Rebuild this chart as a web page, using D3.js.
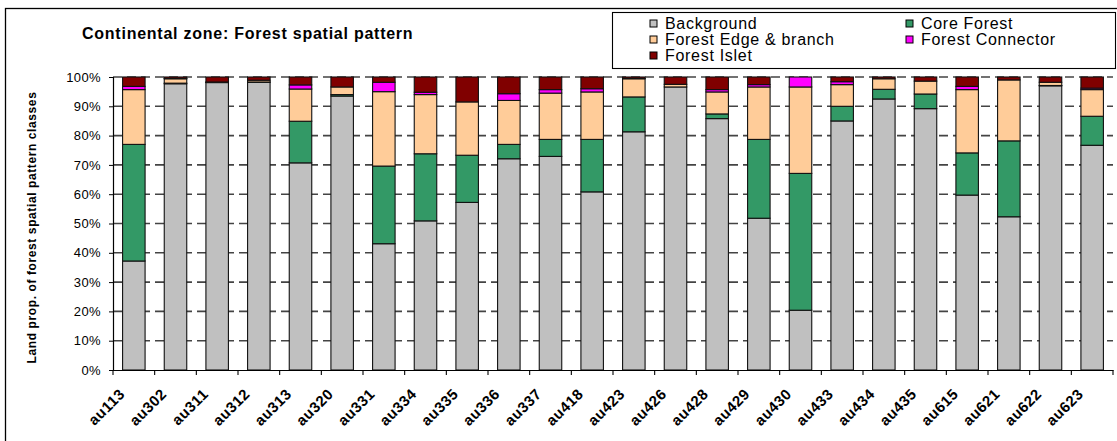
<!DOCTYPE html>
<html><head><meta charset="utf-8">
<script src="https://cdn.jsdelivr.net/npm/d3@7"></script>
<style>
body{margin:0;background:#fff;}
text{font-family:"Liberation Sans",Arial,sans-serif;}
</style></head>
<body><svg id="chart" width="1117" height="441"></svg>
<script>
const categories = ["au113","au302","au311","au312","au313","au320","au331","au334","au335","au336","au337","au418","au423","au426","au428","au429","au430","au433","au434","au435","au615","au621","au622","au623"];
const seriesNames = ["Background","Core Forest","Forest Edge & branch","Forest Connector","Forest Islet"];
const seriesColors = ["#C0C0C0","#339966","#FFCC99","#FF00FF","#800000"];
const background = [37.2,97.7,98.1,98.2,70.7,93.5,43.1,50.9,57.2,72.1,72.9,60.8,81.3,96.6,85.8,51.8,20.4,85.0,92.5,89.2,59.7,52.3,97.0,76.7];
const coreForest = [39.8,0.2,0.1,0.1,14.2,0.5,26.5,22.9,16.1,4.9,5.8,17.9,11.9,0.0,1.6,26.9,46.7,5.0,3.3,5.0,14.4,25.9,0.1,9.9];
const forestEdge = [18.7,1.5,0.1,0.6,11.0,2.6,25.4,20.2,18.2,15.0,15.8,16.2,6.2,0.9,7.5,17.9,29.5,7.4,3.6,4.4,21.6,20.8,1.1,9.1];
const connector  = [1.1,0.1,0.0,0.0,1.4,0.0,3.2,0.8,0.0,2.3,1.2,1.1,0.1,0.0,0.8,0.8,3.4,1.0,0.0,0.0,1.1,0.0,0.0,0.5];
const islet      = [3.2,0.5,1.7,1.1,2.7,3.4,1.8,5.2,8.5,5.7,4.3,4.0,0.5,2.5,4.3,2.6,0.0,1.6,0.6,1.4,3.2,1.0,1.8,3.8];
const yTicks = [0,10,20,30,40,50,60,70,80,90,100];

const svg = d3.select("#chart");
const m = {left:113, right:1113, top:77, bottom:370};

// outer frame
svg.append("rect").attr("x",5.5).attr("y",8.5).attr("width",1120).attr("height",440)
  .attr("fill","none").attr("stroke","#000").attr("stroke-width",1.3);

const x = d3.scaleBand().domain(categories).range([m.left,m.right]).paddingInner(0.46).paddingOuter(0.23);
const xb = d3.scaleBand().domain(categories).range([m.left,m.right]);
const y = d3.scaleLinear().domain([0,100]).range([m.bottom,m.top]);

// gridlines
svg.append("g").selectAll("line").data(yTicks.filter(d=>d>0)).join("line")
  .attr("x1",m.left).attr("x2",m.right).attr("y1",d=>y(d)).attr("y2",d=>y(d))
  .attr("stroke","#444").attr("stroke-width",1.6).attr("stroke-dasharray","9,5");

// stacked data
const rows = categories.map((c,i)=>({cat:c,"Background":background[i],"Core Forest":coreForest[i],"Forest Edge & branch":forestEdge[i],"Forest Connector":connector[i],"Forest Islet":islet[i]}));
const stack = d3.stack().keys(seriesNames)(rows);

svg.append("g").selectAll("g").data(stack).join("g")
  .attr("fill",(d,i)=>seriesColors[i])
  .selectAll("rect").data(d=>d.filter(p=>p[1]-p[0]>0)).join("rect")
  .attr("x",d=>x(d.data.cat)).attr("width",x.bandwidth())
  .attr("y",d=>y(d[1])).attr("height",d=>y(d[0])-y(d[1]))
  .attr("stroke","#111").attr("stroke-width",1.1);

// y axis
const ya = svg.append("g").attr("transform",`translate(${m.left},0)`)
  .call(d3.axisLeft(y).tickValues(yTicks).tickFormat(d=>d+"%").tickSize(4).tickPadding(8));
ya.select(".domain").attr("stroke","#000").attr("stroke-width",1.2);
ya.selectAll(".tick line").attr("stroke","#000");
ya.selectAll("text").attr("font-size","13px").attr("letter-spacing","0.4px").attr("fill","#000")
  .attr("font-family","Liberation Sans, Arial, sans-serif");

// x axis
const xa = svg.append("g").attr("transform",`translate(0,${m.bottom})`)
  .call(d3.axisBottom(xb).tickSize(0).tickFormat(""));
xa.select(".domain").attr("stroke","#000").attr("stroke-width",1.2);
svg.append("g").selectAll("line").data(categories.concat(["_end"])).join("line")
  .attr("x1",(d,i)=>m.left+i*xb.step()).attr("x2",(d,i)=>m.left+i*xb.step())
  .attr("y1",m.bottom).attr("y2",m.bottom+5).attr("stroke","#000").attr("stroke-width",1.1);
svg.append("g").selectAll("text").data(categories).join("text")
  .attr("transform",d=>`translate(${xb(d)+xb.bandwidth()/2-8},${m.bottom+25}) rotate(-45)`)
  .attr("text-anchor","end").attr("font-size","15px").attr("letter-spacing","0.5px")
  .attr("font-weight","bold").attr("fill","#000")
  .text(d=>d);

// y title
svg.append("text").attr("transform",`translate(35.5,${(m.top+m.bottom)/2+4}) rotate(-90)`)
  .attr("text-anchor","middle").attr("font-size","12px").attr("letter-spacing","0.6px")
  .attr("font-weight","bold").text("Land prop. of forest spatial pattern classes");

// title
svg.append("text").attr("x",82).attr("y",39).attr("font-size","16px").attr("letter-spacing","0.75px")
  .attr("font-weight","bold").text("Continental zone: Forest spatial pattern");

// legend
const lg = svg.append("g");
lg.append("rect").attr("x",612.5).attr("y",12.5).attr("width",503).attr("height",56)
  .attr("fill","#fff").attr("stroke","#000").attr("stroke-width",1.1);
const legPos = [[650,23.5],[906,23.5],[650,39.5],[906,39.5],[650,55.5]];
seriesNames.forEach((n,i)=>{
  const [lx,ly] = legPos[i];
  lg.append("rect").attr("x",lx).attr("y",ly-3.5).attr("width",7).attr("height",7)
    .attr("fill",seriesColors[i]).attr("stroke","#000").attr("stroke-width",1);
  lg.append("text").attr("x",lx+15).attr("y",ly+5).attr("font-size","16px").attr("letter-spacing","0.7px")
    .attr("fill","#000").text(n);
});
</script></body></html>
